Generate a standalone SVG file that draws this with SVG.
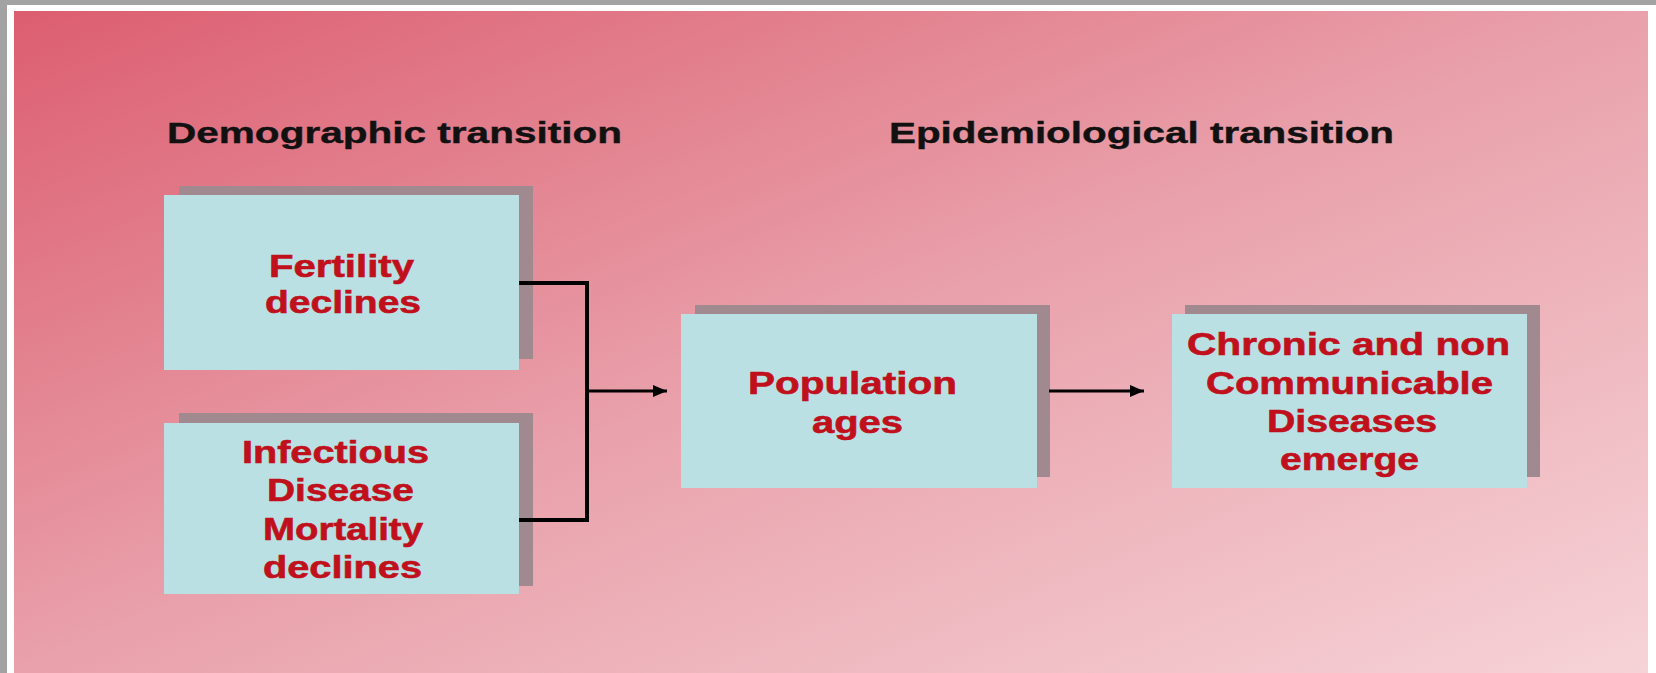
<svg xmlns="http://www.w3.org/2000/svg" width="1656" height="673" viewBox="0 0 1656 673">
  <defs>
    <linearGradient id="bg" x1="0" y1="0" x2="1" y2="1">
      <stop offset="0" stop-color="#dc5e70"/>
      <stop offset="0.5" stop-color="#e9a1ab"/>
      <stop offset="1" stop-color="#f6d3d7"/>
    </linearGradient>
    <marker id="arrow" markerUnits="userSpaceOnUse" markerWidth="15" markerHeight="13" refX="14" refY="6" orient="auto">
      <path d="M0,0 L14,6 L0,12 z" fill="#000"/>
    </marker>
  </defs>
  <style>
    .box { fill: #bae0e4; }
    .shadow { fill: #a08a90; }
    .lbl { font-family: "Liberation Sans", Arial, sans-serif; font-weight: bold; font-size: 31px; fill: #c0101c; stroke: #c0101c; stroke-width: 0.6px; }
    .head { font-family: "Liberation Sans", Arial, sans-serif; font-weight: bold; font-size: 30px; fill: #111; stroke: #111; stroke-width: 0.4px; }
    .conn { fill: none; stroke: #000; }
  </style>

  <!-- frame and background -->
  <rect x="0" y="0" width="1656" height="673" fill="#ffffff"/>
  <rect x="0" y="0" width="1656" height="5" fill="#a3a3a3"/>
  <rect x="0" y="0" width="7" height="673" fill="#a3a3a3"/>
  <rect x="14" y="11" width="1634" height="662" fill="url(#bg)"/>

  <!-- headings -->
  <text class="head" x="167" y="143" textLength="455" lengthAdjust="spacingAndGlyphs">Demographic transition</text>
  <text class="head" x="889" y="143" textLength="505" lengthAdjust="spacingAndGlyphs">Epidemiological transition</text>

  <g id="node-fertility">
    <rect class="shadow" x="179" y="186" width="354" height="173"/>
    <rect class="box" x="164" y="195" width="355" height="175"/>
    <text class="lbl" x="269" y="277" textLength="145" lengthAdjust="spacingAndGlyphs">Fertility</text>
    <text class="lbl" x="265" y="313" textLength="156" lengthAdjust="spacingAndGlyphs">declines</text>
  </g>

  <g id="node-infectious">
    <rect class="shadow" x="179" y="413" width="354" height="173"/>
    <rect class="box" x="164" y="423" width="355" height="171"/>
    <text class="lbl" x="242" y="463" textLength="187" lengthAdjust="spacingAndGlyphs">Infectious</text>
    <text class="lbl" x="267" y="501" textLength="147" lengthAdjust="spacingAndGlyphs">Disease</text>
    <text class="lbl" x="263" y="540" textLength="160" lengthAdjust="spacingAndGlyphs">Mortality</text>
    <text class="lbl" x="263" y="578" textLength="159" lengthAdjust="spacingAndGlyphs">declines</text>
  </g>

  <g id="node-population">
    <rect class="shadow" x="695" y="305" width="355" height="172"/>
    <rect class="box" x="681" y="314" width="356" height="174"/>
    <text class="lbl" x="748" y="394" textLength="209" lengthAdjust="spacingAndGlyphs">Population</text>
    <text class="lbl" x="812" y="433" textLength="91" lengthAdjust="spacingAndGlyphs">ages</text>
  </g>

  <g id="node-chronic">
    <rect class="shadow" x="1185" y="305" width="355" height="172"/>
    <rect class="box" x="1172" y="314" width="355" height="174"/>
    <text class="lbl" x="1187" y="355" textLength="323" lengthAdjust="spacingAndGlyphs">Chronic and non</text>
    <text class="lbl" x="1206" y="394" textLength="287" lengthAdjust="spacingAndGlyphs">Communicable</text>
    <text class="lbl" x="1267" y="432" textLength="170" lengthAdjust="spacingAndGlyphs">Diseases</text>
    <text class="lbl" x="1280" y="470" textLength="139" lengthAdjust="spacingAndGlyphs">emerge</text>
  </g>

  <!-- connectors -->
  <g id="connectors">
    <path class="conn" stroke-width="4" d="M519,283 H587 V520 H519"/>
    <line class="conn" stroke-width="3" x1="587" y1="391" x2="667" y2="391" marker-end="url(#arrow)"/>
    <line class="conn" stroke-width="3" x1="1049" y1="391" x2="1144" y2="391" marker-end="url(#arrow)"/>
  </g>
</svg>
